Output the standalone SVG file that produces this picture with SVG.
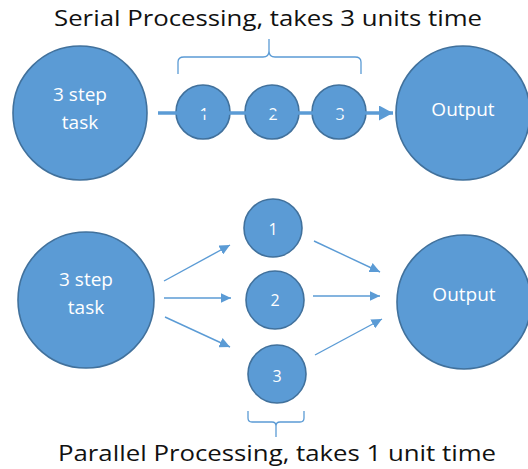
<svg xmlns="http://www.w3.org/2000/svg" width="528" height="469" viewBox="0 0 528 469">
  <style>
    .node { fill: #5b9bd5; stroke: #41719c; stroke-width: 1.6; }
    .lbl { fill: #ffffff; font-family: "Open Sans", "Liberation Sans", Arial, sans-serif; text-anchor: middle; }
    .big { font-size: 19px; }
    .small { font-size: 16px; }
    .title { fill: #111111; font-family: "Open Sans", "Liberation Sans", Arial, sans-serif; font-size: 21px; text-anchor: middle; }
    .thin { stroke: #5b9bd5; stroke-width: 1.4; fill: none; marker-end: url(#head); }
    .brace { stroke: #5b9bd5; stroke-width: 1.3; fill: none; }
  </style>
  <defs>
    <marker id="head" markerUnits="userSpaceOnUse" markerWidth="11" markerHeight="10" refX="10.5" refY="5" orient="auto">
      <path d="M0,0 L10.5,5 L0,10 z" fill="#5b9bd5"/>
    </marker>
    <marker id="headBig" markerUnits="userSpaceOnUse" markerWidth="14" markerHeight="15" refX="14" refY="7.5" orient="auto">
      <path d="M0,0 L14,7.5 L0,15 z" fill="#5b9bd5"/>
    </marker>
  </defs>

  <!-- titles -->
  <text class="title" x="268" y="26" textLength="428" lengthAdjust="spacingAndGlyphs">Serial Processing, takes 3 units time</text>
  <text class="title" x="277" y="461" textLength="438" lengthAdjust="spacingAndGlyphs">Parallel Processing, takes 1 unit time</text>

  <!-- serial section -->
  <g id="serial-task">
    <circle class="node" cx="80" cy="113" r="67"/>
    <text class="lbl big" x="80" y="101">3 step</text>
    <text class="lbl big" x="80" y="129">task</text>
  </g>
  <g id="serial-step-1">
    <circle class="node" cx="203" cy="112" r="27"/>
    <text class="lbl small" x="204" y="120">1</text>
  </g>
  <g id="serial-step-2">
    <circle class="node" cx="272" cy="112" r="27"/>
    <text class="lbl small" x="273" y="120">2</text>
  </g>
  <g id="serial-step-3">
    <circle class="node" cx="339" cy="112" r="27"/>
    <text class="lbl small" x="340" y="120">3</text>
  </g>
  <g id="serial-output">
    <circle class="node" cx="463" cy="113" r="67"/>
    <text class="lbl big" x="463" y="116">Output</text>
  </g>
  <g id="serial-brace">
    <path class="brace" d="M178,74 V62 Q178,57 184,57 H263 Q269,57 269,51 V39 M269,51 Q269,57 275,57 H355 Q361,57 361,62 V74"/>
  </g>

  <!-- parallel section -->
  <g id="parallel-task">
    <circle class="node" cx="86" cy="300" r="68"/>
    <text class="lbl big" x="86" y="286">3 step</text>
    <text class="lbl big" x="86" y="314">task</text>
  </g>
  <g id="parallel-step-1">
    <circle class="node" cx="273" cy="228" r="29"/>
    <text class="lbl small" x="273" y="235">1</text>
  </g>
  <g id="parallel-step-2">
    <circle class="node" cx="275" cy="300" r="29"/>
    <text class="lbl small" x="275" y="306">2</text>
  </g>
  <g id="parallel-step-3">
    <circle class="node" cx="277" cy="374" r="29"/>
    <text class="lbl small" x="277" y="382">3</text>
  </g>
  <g id="parallel-output">
    <circle class="node" cx="464" cy="302" r="67"/>
    <text class="lbl big" x="464" y="301">Output</text>
  </g>
  <g id="parallel-brace">
    <path class="brace" d="M248,411 V418 Q248,422 252,422 H272 Q276,422 276,426 V437 M276,426 Q276,422 280,422 H300 Q304,422 304,418 V411"/>
  </g>

  <!-- connectors -->
  <g id="connectors">
    <line x1="158" y1="113" x2="393" y2="113" stroke="#5b9bd5" stroke-width="3.5" marker-end="url(#headBig)"/>
    <line class="thin" x1="164" y1="281" x2="230" y2="245"/>
    <line class="thin" x1="164" y1="298" x2="231" y2="298"/>
    <line class="thin" x1="165" y1="317" x2="230" y2="347"/>
    <line class="thin" x1="314" y1="241" x2="380" y2="272"/>
    <line class="thin" x1="313" y1="296" x2="380" y2="296"/>
    <line class="thin" x1="315" y1="355" x2="382" y2="319"/>
  </g>
</svg>
